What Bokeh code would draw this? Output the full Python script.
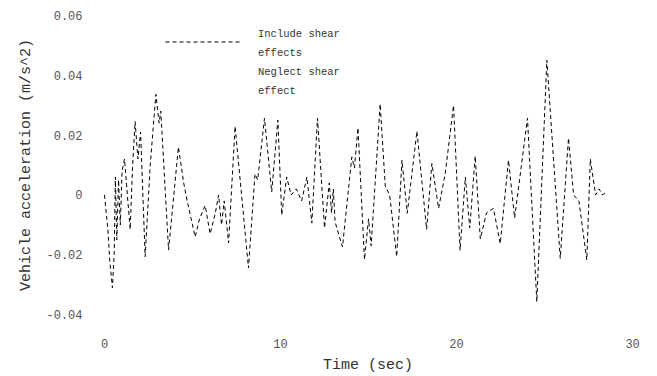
from bokeh.plotting import figure
from bokeh.models import FixedTicker, Legend, LegendItem
from bokeh.embed import file_html
from bokeh.resources import INLINE

# time (s) and vehicle acceleration (m/s^2)
time = [0.0, 0.2, 0.3, 0.45, 0.55, 0.62, 0.7, 0.8, 0.9, 1.0, 1.14, 1.3, 1.46, 1.6, 1.74, 1.9,
        2.05, 2.31, 2.6, 2.92, 3.1, 3.2, 3.64, 4.2, 4.5, 4.7, 5.15, 5.4, 5.72, 6.0, 6.3, 6.48,
        6.65, 6.8, 7.05, 7.42, 8.18, 8.55, 8.7, 9.09, 9.5, 9.85, 10.07, 10.35, 10.6, 10.9, 11.2,
        11.5, 11.78, 12.1, 12.5, 12.77, 12.9, 13.0, 13.1, 13.52, 14.05, 14.2, 14.4, 14.77, 15.0,
        15.15, 15.66, 15.95, 16.2, 16.6, 16.9, 17.2, 17.75, 18.3, 18.6, 18.98, 19.36, 19.83,
        20.2, 20.5, 20.75, 21.06, 21.35, 21.7, 22.1, 22.48, 22.95, 23.3, 24.03, 24.56, 25.13,
        25.89, 26.36, 26.65, 26.95, 27.4, 27.6, 27.9, 28.1, 28.3, 28.5]
accel = [0.0, -0.012, -0.022, -0.031, -0.02, 0.006, -0.015, 0.005, -0.01, 0.008, 0.012, 0.0,
         -0.0115, 0.01, 0.0245, 0.012, 0.021, -0.0206, 0.01, 0.0336, 0.024, 0.028, -0.0184,
         0.016, 0.004, -0.002, -0.014, -0.008, -0.0035, -0.013, -0.006, 0.0, -0.010, -0.002,
         -0.016, 0.0229, -0.0244, 0.007, 0.005, 0.0256, 0.001, 0.025, -0.0067, 0.006, 0.0,
         0.002, -0.002, 0.006, -0.0094, 0.0256, -0.011, 0.004, -0.006, 0.002, -0.009, -0.0174,
         0.0127, 0.009, 0.0224, -0.0216, -0.008, -0.017, 0.0304, 0.003, 0.0, -0.0206, 0.0116,
         -0.0061, 0.0213, -0.0115, 0.0105, -0.0045, 0.0073, 0.0299, -0.0185, 0.006, -0.011,
         0.013, -0.0147, -0.006, -0.0045, -0.0163, 0.0116, -0.0077, 0.0256, -0.0357, 0.045,
         -0.0212, 0.019, 0.0, -0.002, -0.0217, 0.012, 0.0, 0.002, 0.0, 0.001]

x_ticks = [0, 10, 20, 30]
y_ticks = [-0.04, -0.02, 0.0, 0.02, 0.04, 0.06]
y_tick_labels = {-0.04: "-0.04", -0.02: "-0.02", 0.0: "0", 0.02: "0.02", 0.04: "0.04", 0.06: "0.06"}
legend_lines = ["Include shear", "effects", "Neglect shear", "effect"]

FONT = "Liberation Mono"

p = figure(width=657, height=376, output_backend="svg", toolbar_location=None,
           x_range=(-0.51, 30.45), y_range=(-0.0416, 0.0616),
           min_border_left=95, min_border_right=17, min_border_top=10, min_border_bottom=46)
p.outline_line_color = None
p.grid.visible = False

r1 = p.line(time, accel, line_color="black", line_width=1, line_dash="4 3")
r2 = p.line(time, accel, line_color="black", line_alpha=0, line_width=1)

for ax in (p.xaxis[0], p.yaxis[0]):
    ax.axis_line_color = None
    ax.major_tick_line_color = None
    ax.minor_tick_line_color = None
    ax.major_label_text_font = FONT
    ax.major_label_text_font_size = "12px"
    ax.major_label_text_color = "#555555"
    ax.axis_label_text_font = FONT
    ax.axis_label_text_font_style = "normal"
    ax.axis_label_text_font_size = "15px"
    ax.axis_label_text_color = "#333333"

p.xaxis.ticker = FixedTicker(ticks=x_ticks)
p.yaxis.ticker = FixedTicker(ticks=y_ticks)
p.yaxis.major_label_overrides = y_tick_labels
p.xaxis.axis_label = "Time (sec)"
p.yaxis.axis_label = "Vehicle acceleration (m/s^2)"
p.xaxis.major_label_standoff = 13
p.yaxis.major_label_standoff = 7
p.xaxis.axis_label_standoff = 6
p.yaxis.axis_label_standoff = 8

common = dict(glyph_width=75, glyph_height=19, label_height=19, label_standoff=18, padding=0,
              margin=0, spacing=0, border_line_color=None, background_fill_alpha=0,
              label_text_font=FONT, label_text_font_size="10.5px", label_text_color="#333333")

text_legend = Legend(items=[LegendItem(label=t, renderers=[r2]) for t in legend_lines],
                     location=(70, 219), **common)
line_legend = Legend(items=[LegendItem(label=" ", renderers=[r1])],
                     location=(70, 268), **common)
p.add_layout(text_legend)
p.add_layout(line_legend)

open("out.html", "w").write(file_html(p, INLINE))
